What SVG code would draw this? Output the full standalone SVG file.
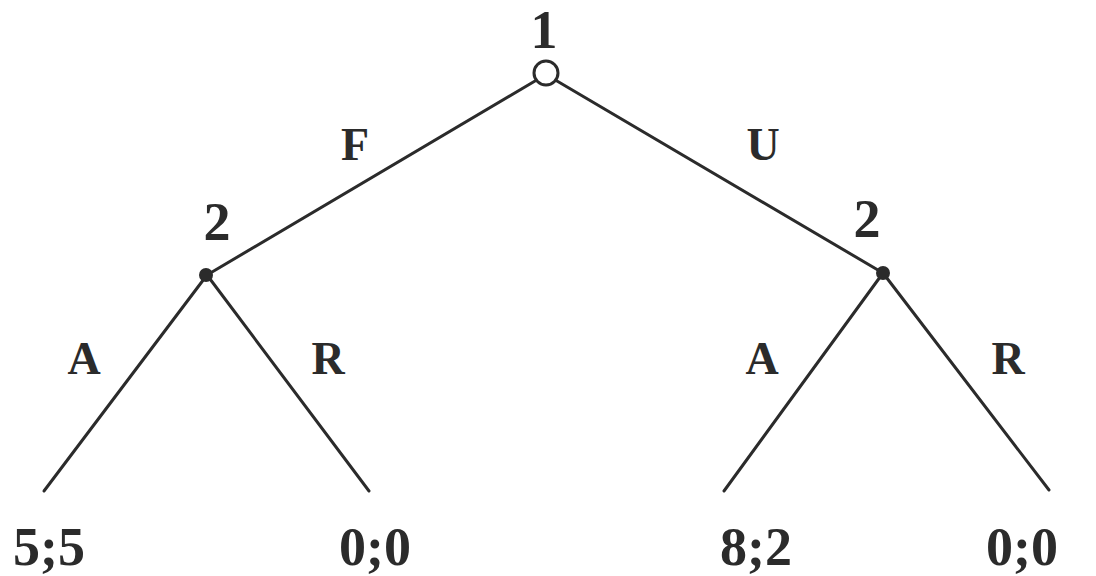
<svg xmlns="http://www.w3.org/2000/svg" width="1096" height="576" viewBox="0 0 1096 576">
<style>
.e{stroke:#2b2b2b;stroke-width:3;fill:none;stroke-linecap:round}
.t{font-family:"Liberation Serif","DejaVu Serif",serif;font-weight:bold;font-size:54px;fill:#2b2b2b;text-anchor:middle}
.l{font-family:"Liberation Serif","DejaVu Serif",serif;font-weight:bold;font-size:46px;fill:#2b2b2b;text-anchor:middle}
</style>
<rect width="1096" height="576" fill="#ffffff"/>
<g id="connectors">
<line class="e" x1="535" y1="81" x2="207" y2="275"/>
<line class="e" x1="557" y1="81" x2="883" y2="273"/>
<line class="e" x1="207" y1="275" x2="44" y2="491"/>
<line class="e" x1="207" y1="275" x2="369" y2="491"/>
<line class="e" x1="883" y1="273" x2="724" y2="491"/>
<line class="e" x1="883" y1="273" x2="1049" y2="490"/>
<text class="l" x="355" y="160">F</text>
<text class="l" x="763" y="160">U</text>
<text class="l" x="84" y="374">A</text>
<text class="l" x="328" y="374">R</text>
<text class="l" x="762" y="374">A</text>
<text class="l" x="1008" y="374">R</text>
</g>
<g id="node-root">
<circle cx="546" cy="73" r="12" fill="#ffffff" stroke="#2b2b2b" stroke-width="3"/>
<text class="t" x="544" y="48">1</text>
</g>
<g id="node-left">
<circle cx="206" cy="275" r="7" fill="#2b2b2b"/>
<text class="t" x="217" y="240">2</text>
</g>
<g id="node-right">
<circle cx="883" cy="273" r="7" fill="#2b2b2b"/>
<text class="t" x="867" y="237">2</text>
</g>
<g id="leaf-1"><text class="t" x="49" y="565">5;5</text></g>
<g id="leaf-2"><text class="t" x="375" y="565">0;0</text></g>
<g id="leaf-3"><text class="t" x="756" y="565">8;2</text></g>
<g id="leaf-4"><text class="t" x="1022" y="565">0;0</text></g>
</svg>
